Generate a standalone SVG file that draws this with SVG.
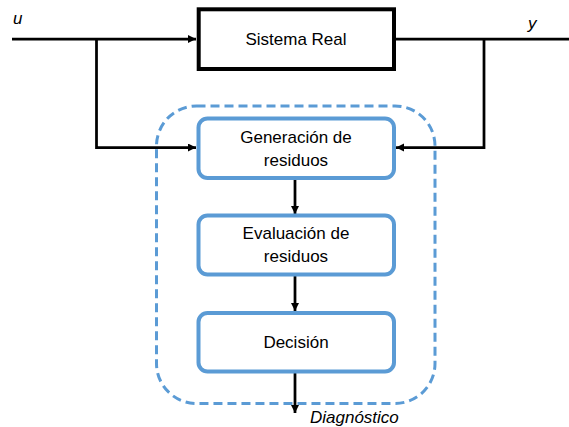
<svg xmlns="http://www.w3.org/2000/svg" width="569" height="427" viewBox="0 0 569 427">
  <style>
    .lbl { font-family: "Liberation Sans", Arial, sans-serif; font-size: 17px; fill: #000; text-anchor: middle; }
    .ital { font-family: "Liberation Sans", Arial, sans-serif; font-size: 17px; fill: #000; font-style: italic; }
    .blk { fill: none; stroke: #000; stroke-width: 2.75; }
    .blue { fill: #fff; stroke: #5B9BD5; stroke-width: 4; }
  </style>
  <defs>
    <marker id="arr" markerUnits="userSpaceOnUse" markerWidth="9" markerHeight="9" refX="8" refY="4" orient="auto">
      <path d="M0,0 L8,4 L0,8 z" fill="#000"/>
    </marker>
  </defs>
  <rect width="569" height="427" fill="#fff"/>

  <g id="boundary">
    <rect x="156.5" y="106" width="278.5" height="297.5" rx="40" ry="40" fill="none" stroke="#5B9BD5" stroke-width="3" stroke-dasharray="9 5"/>
  </g>

  <g id="connectors">
    <path class="blk" d="M12,39 H196" marker-end="url(#arr)"/>
    <path class="blk" d="M396,39 H569"/>
    <path class="blk" d="M96.5,39 V147.5 H196" marker-end="url(#arr)"/>
    <path class="blk" d="M484,39 V147.5 H396" marker-end="url(#arr)"/>
    <path class="blk" d="M295,180 V214" marker-end="url(#arr)"/>
    <path class="blk" d="M295,276 V311" marker-end="url(#arr)"/>
    <path class="blk" d="M295,373 V413" marker-end="url(#arr)"/>
  </g>

  <g id="sistema-real">
    <rect x="198.7" y="9.3" width="195.3" height="59.7" fill="#fff" stroke="#000" stroke-width="4"/>
    <text class="lbl" x="296" y="45">Sistema Real</text>
  </g>

  <g id="generacion">
    <rect class="blue" x="198.5" y="118.5" width="195.5" height="59.5" rx="9" ry="9"/>
    <text class="lbl" x="296" y="142.7">Generación de</text>
    <text class="lbl" x="296" y="165.7">residuos</text>
  </g>

  <g id="evaluacion">
    <rect class="blue" x="198.5" y="215.5" width="195.5" height="59" rx="9" ry="9"/>
    <text class="lbl" x="296" y="239">Evaluación de</text>
    <text class="lbl" x="296" y="262">residuos</text>
  </g>

  <g id="decision">
    <rect class="blue" x="198.5" y="313" width="195.5" height="58.5" rx="9" ry="9"/>
    <text class="lbl" x="296" y="348.3">Decisión</text>
  </g>

  <g id="labels">
    <text class="ital" x="13" y="24">u</text>
    <text class="ital" x="528" y="29">y</text>
    <text class="ital" x="310" y="423">Diagnóstico</text>
  </g>
</svg>
